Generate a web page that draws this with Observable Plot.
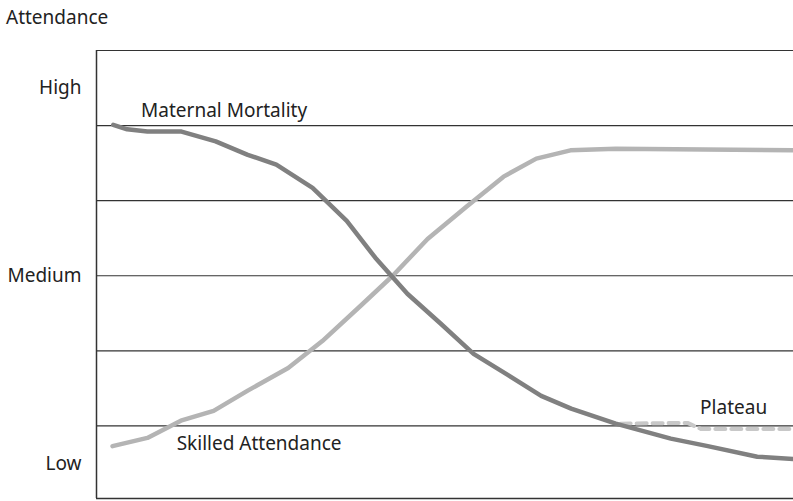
<!DOCTYPE html>
<html>
<head>
<meta charset="utf-8">
<script src="https://cdn.jsdelivr.net/npm/d3@7"></script>
<script src="https://cdn.jsdelivr.net/npm/@observablehq/plot@0.6"></script>
<style>
  body { margin: 0; background: #fff; font-family: "Noto Sans", sans-serif; }
  #title { height: 34px; line-height: 34px; padding-left: 6px; font-size: 19px; color: #222; }
</style>
</head>
<body>
<div id="title">Attendance</div>
<div id="chart"></div>
<script>
// Maternal mortality (time units 0-100, level 0-6)
const mortX = [2.4, 4.4, 7.3, 12.2, 17.1, 21.7, 25.8, 31.0, 35.9, 40.0, 44.6, 49.4, 54.1, 59.0, 63.8, 68.1, 74.5, 82.4, 87.7, 94.8, 100];
const mortY = [5.01, 4.95, 4.92, 4.92, 4.79, 4.61, 4.48, 4.17, 3.73, 3.24, 2.76, 2.36, 1.96, 1.68, 1.40, 1.23, 1.03, 0.83, 0.73, 0.59, 0.56];
// Skilled attendance
const skillX = [2.3, 7.3, 12.1, 16.8, 21.7, 27.5, 32.4, 37.9, 42.5, 47.5, 53.2, 58.4, 63.1, 68.0, 74.5, 100];
const skillY = [0.73, 0.84, 1.07, 1.20, 1.47, 1.77, 2.13, 2.60, 3.00, 3.49, 3.93, 4.32, 4.56, 4.67, 4.69, 4.67];
// Plateau scenario for skilled attendance
const platX = [75.2, 84.8, 86.7, 100];
const platY = [1.03, 1.04, 0.96, 0.96];
// Axis ticks
const tickValues = [5.5, 3, 0.5];
const tickLabels = ["High", "Medium", "Low"];
const gridLevels = [1, 2, 3, 4, 5, 6];
// Annotations
const labels = [
  {x: 6.4, y: 5.2, text: "Maternal Mortality"},
  {x: 11.5, y: 0.76, text: "Skilled Attendance"},
  {x: 86.6, y: 1.24, text: "Plateau"}
];

const mort = mortX.map((x, i) => ({x, y: mortY[i]}));
const skill = skillX.map((x, i) => ({x, y: skillY[i]}));
const plat = platX.map((x, i) => ({x, y: platY[i]}));
const tickMap = new Map(tickValues.map((v, i) => [v, tickLabels[i]]));
const yFloor = 0.033;

const chart = Plot.plot({
  width: 793,
  height: 467,
  marginLeft: 96,
  marginRight: 0,
  marginTop: 16,
  marginBottom: 3,
  style: {fontFamily: "Noto Sans, sans-serif", fontSize: "19px", color: "#222", background: "#fff"},
  x: {domain: [0, 100], axis: null},
  y: {domain: [yFloor, 6], axis: null},
  marks: [
    Plot.ruleY(gridLevels, {stroke: "#333", strokeWidth: 1.2}),
    Plot.ruleY([yFloor], {stroke: "#333", strokeWidth: 1.5}),
    Plot.ruleX([0], {stroke: "#333", strokeWidth: 1.5}),
    Plot.axisY(tickValues, {tickSize: 0, tickPadding: 15, tickFormat: d => tickMap.get(d), fontSize: 19, label: null}),
    Plot.line(plat, {x: "x", y: "y", stroke: "#c8c8c8", strokeWidth: 4, strokeDasharray: "10,6"}),
    Plot.line(skill, {x: "x", y: "y", stroke: "#b4b4b4", strokeWidth: 4.5}),
    Plot.line(mort, {x: "x", y: "y", stroke: "#808080", strokeWidth: 4.5}),
    Plot.text(labels, {x: "x", y: "y", text: "text", textAnchor: "start", fontSize: 19, fill: "#222"})
  ]
});
document.getElementById("chart").appendChild(chart);
</script>
</body>
</html>
